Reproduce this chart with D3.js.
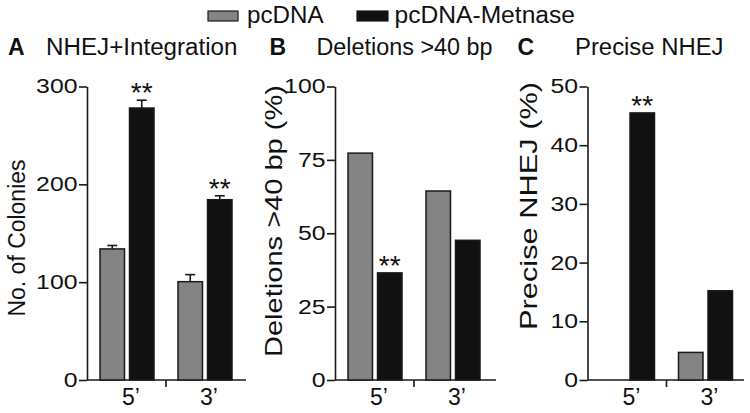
<!DOCTYPE html>
<html>
<head>
<meta charset="utf-8">
<script src="https://cdn.jsdelivr.net/npm/d3@7/dist/d3.min.js"></script>
<style>
  html, body { margin: 0; padding: 0; background: #fff; }
  text { font-family: "Liberation Sans", Arial, Helvetica, sans-serif; fill: #111; }
</style>
</head>
<body>
<svg id="chart" width="750" height="413"></svg>
<script>
// ---- data ----
const categories = ["5\u2019", "3\u2019"];
const seriesNames = ["pcDNA", "pcDNA-Metnase"];
const seriesColors = ["#838383", "#111111"];

const coloniesPcDNA = [134, 100.5];
const coloniesMetnase = [278, 184.3];
const coloniesErrPcDNA = [3.5, 7.2];
const coloniesErrMetnase = [8, 4];
const coloniesSig = [[false, true], [false, true]]; // [category][series]

const deletionsPcDNA = [77.3, 64.4];
const deletionsMetnase = [36.5, 47.6];
const deletionsSig = [[false, true], [false, false]];

const precisePcDNA = [0, 4.7];
const preciseMetnase = [45.5, 15.2];
const preciseSig = [[false, true], [false, false]];

const ticksA = [0, 100, 200, 300];
const ticksB = [0, 25, 50, 75, 100];
const ticksC = [0, 10, 20, 30, 40, 50];

const panels = [
  { letter: "A", title: "NHEJ+Integration", ylab: "No. of Colonies", max: 300, ticks: ticksA,
    values: [coloniesPcDNA, coloniesMetnase], errs: [coloniesErrPcDNA, coloniesErrMetnase], sig: coloniesSig,
    axisX: 87, xEnd: 246, letterX: 8, titleX: 46, titleLen: 191.5,
    ylabX: 25, ylabY: 238, ylabSize: 23, ylabLen: 157 },
  { letter: "B", title: "Deletions >40 bp", ylab: "Deletions >40 bp (%)", max: 100, ticks: ticksB,
    values: [deletionsPcDNA, deletionsMetnase], errs: null, sig: deletionsSig,
    axisX: 335, xEnd: 496, letterX: 269.5, titleX: 316.5, titleLen: 176,
    ylabX: 282.3, ylabY: 221, ylabSize: 24, ylabLen: 272 },
  { letter: "C", title: "Precise NHEJ", ylab: "Precise NHEJ (%)", max: 50, ticks: ticksC,
    values: [precisePcDNA, preciseMetnase], errs: null, sig: preciseSig,
    axisX: 587.5, xEnd: 744, letterX: 517.5, titleX: 575, titleLen: 148.5,
    ylabX: 536.5, ylabY: 206, ylabSize: 24, ylabLen: 248 }
];

const svg = d3.select("#chart");
const yTop = 86.5, yBottom = 380;
const ink = "#1a1a1a";

// ---- legend ----
const legendItems = [
  { x: 208, w: 30, tx: 247, tlen: 76.5 },
  { x: 357, w: 31, tx: 394.5, tlen: 180.5 }
];
seriesNames.forEach((name, i) => {
  const L = legendItems[i];
  svg.append("rect").attr("x", L.x).attr("y", 11).attr("width", L.w).attr("height", 10)
    .attr("fill", seriesColors[i]).attr("stroke", ink).attr("stroke-width", 1.2);
  svg.append("text").attr("x", L.tx).attr("y", 23).attr("font-size", 23)
    .attr("textLength", L.tlen).attr("lengthAdjust", "spacingAndGlyphs").text(name);
});

// ---- panels ----
panels.forEach(p => {
  // headings
  svg.append("text").attr("x", p.letterX).attr("y", 54.5).attr("font-size", 23)
    .attr("font-weight", "bold").text(p.letter);
  svg.append("text").attr("x", p.titleX).attr("y", 54.5).attr("font-size", 23)
    .attr("textLength", p.titleLen).attr("lengthAdjust", "spacingAndGlyphs").text(p.title);

  const y = d3.scaleLinear().domain([0, p.max]).range([yBottom, yTop]);
  const x0 = d3.scaleBand().domain(categories).range([p.axisX + 1, p.axisX + 157]).padding(0);
  const x1 = d3.scaleBand().domain(d3.range(seriesNames.length)).range([-27, 27]).paddingInner(0.17);

  // y axis
  const yAxis = d3.axisLeft(y).tickValues(p.ticks).tickSize(8).tickSizeOuter(0).tickPadding(1.5);
  const gy = svg.append("g").attr("transform", `translate(${p.axisX},0)`).call(yAxis);
  gy.select(".domain").attr("stroke", ink).attr("stroke-width", 1.6);
  gy.selectAll(".tick line").attr("stroke", ink).attr("stroke-width", 1.6);
  gy.selectAll(".tick text")
    .attr("font-size", 20).attr("font-family", "Liberation Sans, Arial, sans-serif").attr("fill", "#111")
    .attr("textLength", d => String(d).length * 13.8).attr("lengthAdjust", "spacingAndGlyphs");

  // x axis baseline + middle separator tick
  svg.append("line").attr("x1", p.axisX).attr("x2", p.xEnd).attr("y1", yBottom).attr("y2", yBottom)
    .attr("stroke", ink).attr("stroke-width", 1.6);
  const sep = x0(categories[1]);
  svg.append("line").attr("x1", sep).attr("x2", sep).attr("y1", yBottom).attr("y2", yBottom + 7)
    .attr("stroke", ink).attr("stroke-width", 1.6);

  // category labels
  categories.forEach(c => {
    svg.append("text").attr("x", x0(c) + x0.bandwidth() / 2 + 4).attr("y", 405)
      .attr("text-anchor", "middle").attr("font-size", 23).text(c);
  });

  // y label
  svg.append("text")
    .attr("transform", `translate(${p.ylabX},${p.ylabY}) rotate(-90)`)
    .attr("text-anchor", "middle").attr("font-size", p.ylabSize)
    .attr("textLength", p.ylabLen).attr("lengthAdjust", "spacingAndGlyphs").text(p.ylab);

  // bars
  categories.forEach((c, ci) => {
    const cx = x0(c) + x0.bandwidth() / 2;
    seriesNames.forEach((s, si) => {
      const v = p.values[si][ci];
      const bx = cx + x1(si);
      const bw = x1.bandwidth();
      if (v > 0) {
        svg.append("rect").attr("x", bx).attr("y", y(v)).attr("width", bw).attr("height", yBottom - y(v))
          .attr("fill", seriesColors[si]).attr("stroke", ink).attr("stroke-width", 1.5);
      }
      let top = y(v);
      if (p.errs) {
        const e = p.errs[si][ci];
        const ex = bx + bw / 2;
        top = y(v + e);
        svg.append("line").attr("x1", ex).attr("x2", ex).attr("y1", y(v)).attr("y2", top)
          .attr("stroke", ink).attr("stroke-width", 1.6);
        svg.append("line").attr("x1", ex - 5).attr("x2", ex + 5).attr("y1", top).attr("y2", top)
          .attr("stroke", ink).attr("stroke-width", 1.6);
      }
      if (p.sig[ci][si]) {
        svg.append("text").attr("x", bx + bw / 2).attr("y", top + 2)
          .attr("text-anchor", "middle").attr("font-size", 28).text("**");
      }
    });
  });
});
</script>
</body>
</html>
